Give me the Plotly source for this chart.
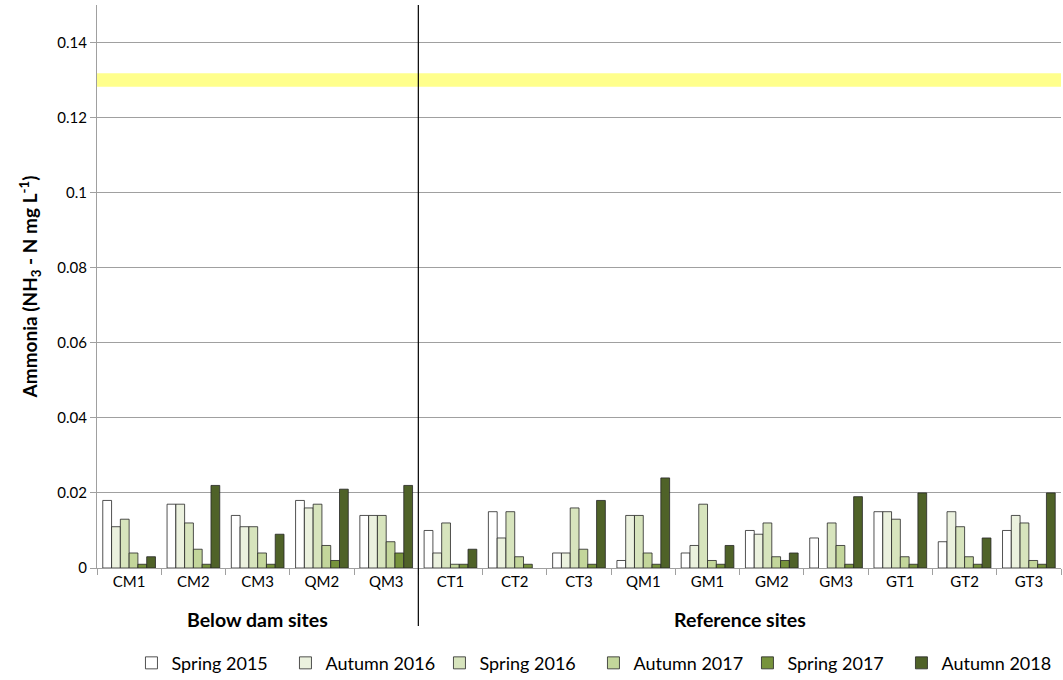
import plotly.graph_objects as go

sites = ["CM1", "CM2", "CM3", "QM2", "QM3", "CT1", "CT2", "CT3", "QM1",
         "GM1", "GM2", "GM3", "GT1", "GT2", "GT3"]
series_names = ["Spring 2015", "Autumn 2016", "Spring 2016",
                "Autumn 2017", "Spring 2017", "Autumn 2018"]
spring_2015 = [0.018, 0.017, 0.014, 0.018, 0.014, 0.010, 0.015, 0.004, 0.002,
               0.004, 0.010, 0.008, 0.015, 0.007, 0.010]
autumn_2016 = [0.011, 0.017, 0.011, 0.016, 0.014, 0.004, 0.008, 0.004, 0.014,
               0.006, 0.009, None, 0.015, 0.015, 0.014]
spring_2016 = [0.013, 0.012, 0.011, 0.017, 0.014, 0.012, 0.015, 0.016, 0.014,
               0.017, 0.012, 0.012, 0.013, 0.011, 0.012]
autumn_2017 = [0.004, 0.005, 0.004, 0.006, 0.007, 0.001, 0.003, 0.005, 0.004,
               0.002, 0.003, 0.006, 0.003, 0.003, 0.002]
spring_2017 = [0.001, 0.001, 0.001, 0.002, 0.004, 0.001, 0.001, 0.001, 0.001,
               0.001, 0.002, 0.001, 0.001, 0.001, 0.001]
autumn_2018 = [0.003, 0.022, 0.009, 0.021, 0.022, 0.005, None, 0.018, 0.024,
               0.006, 0.004, 0.019, 0.020, 0.008, 0.020]
series_values = [spring_2015, autumn_2016, spring_2016,
                 autumn_2017, spring_2017, autumn_2018]
colors = ["#ffffff", "#ebf1de", "#d7e4bd", "#c3d69b", "#77933c", "#4f6228"]
guideline_low, guideline_high = 0.1282, 0.1318
groups = [("Below dam sites", 0, 5), ("Reference sites", 5, 15)]

FONT = "Lato, Open Sans, sans-serif"

fig = go.Figure()
for name, vals, col in zip(series_names, series_values, colors):
    fig.add_trace(go.Bar(
        x=sites, y=vals, name=name,
        marker=dict(color=col, line=dict(color="#262626", width=0.8)),
    ))

n = len(sites)
# guideline band
fig.add_shape(type="rect", xref="paper", yref="y", x0=0, x1=1,
              y0=guideline_low, y1=guideline_high,
              fillcolor="rgba(255,255,0,0.45)", line_width=0, layer="above")
# separator line between groups
fig.add_shape(type="line", xref="paper", yref="paper",
              x0=groups[0][2] / n, x1=groups[0][2] / n, y0=-0.103, y1=1,
              line=dict(color="#000000", width=1.2))
for label, a, b in groups:
    fig.add_annotation(x=(a + b) / 2 / n, y=-0.092, xref="paper", yref="paper",
                       text="<b>" + label + "</b>", showarrow=False,
                       font=dict(size=19.5, color="#000000", family=FONT),
                       xanchor="center", yanchor="middle")

fig.update_layout(
    width=1063, height=680,
    margin=dict(l=97, r=2, t=5, b=112, autoexpand=False),
    paper_bgcolor="white", plot_bgcolor="white",
    barmode="group", bargap=0.18, bargroupgap=0,
    font=dict(family=FONT, size=14, color="#000000"),
    showlegend=True,
    legend=dict(orientation="h", x=0.515, xanchor="center", y=-0.169,
                yanchor="middle", font=dict(size=18, family=FONT),
                entrywidth=109, entrywidthmode="pixels", itemwidth=30,
                traceorder="normal"),
    xaxis=dict(
        type="category", showline=True, linecolor="#a0a0a0", linewidth=1,
        ticks="outside", tickson="boundaries", ticklen=6, tickcolor="#a0a0a0",
        showgrid=False, tickfont=dict(size=15), range=[-0.5, n - 0.5],
        automargin=False,
    ),
    yaxis=dict(
        range=[0, 0.15], tickvals=[0, 0.02, 0.04, 0.06, 0.08, 0.1, 0.12, 0.14],
        ticktext=["0", "0.02", "0.04", "0.06", "0.08", "0.1", "0.12", "0.14"],
        showgrid=True, gridcolor="#a0a0a0", gridwidth=1,
        showline=True, linecolor="#a0a0a0", linewidth=1,
        ticks="outside", ticklen=6, tickcolor="#a0a0a0",
        zeroline=False, tickfont=dict(size=15), automargin=False,
        title=dict(text="<b>Ammonia (NH<sub>3</sub> - N mg L<sup>-1</sup>)</b>",
                   font=dict(size=19), standoff=14),
    ),
)

fig.write_html("out.html", config={"displayModeBar": False},
               post_script="document.body.style.margin='0';"
                           "document.body.style.overflow='hidden';")
